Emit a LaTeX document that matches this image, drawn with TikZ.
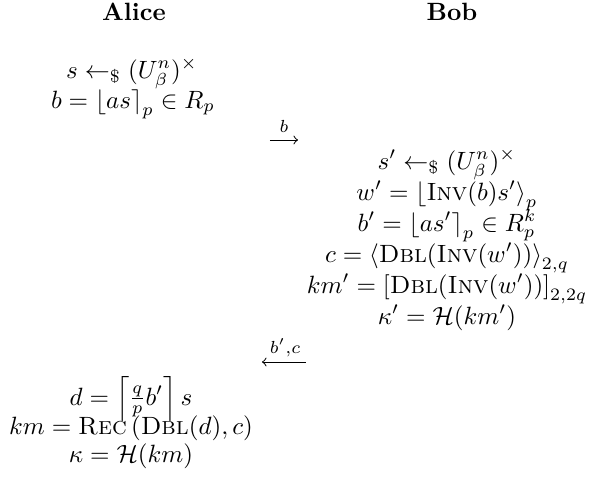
\documentclass[tikz,border=0pt]{standalone}
\usepackage{amsmath,amssymb}
\begin{document}
\begin{tikzpicture}[x=0.4pt,y=-0.4pt,
  lbl/.style={anchor=base,inner sep=0pt,outer sep=0pt},
  msg/.style={line width=0.4pt},
  msglbl/.style={anchor=base,inner sep=0pt}]
\useasboundingbox (0,0) rectangle (589,481);
\node[lbl,font=\bfseries] (alice) at (134,20) {Alice};
\node[lbl,font=\bfseries] (bob) at (452,20) {Bob};
% Alice first block
\node[lbl] (a1) at (132,78) {$s \leftarrow_{\$} (U^n_\beta)^\times$};
\node[lbl] (a2) at (133,108) {$b = \left\lfloor as \right\rceil_p \in R_p$};
% message 1
\coordinate (m1l) at (270,140);
\coordinate (m1r) at (298,140);
\draw[msg,->] (m1l) -- (m1r);
\node[msglbl] (m1t) at (284,132) {$\scriptstyle b$};
% Bob block
\node[lbl] (b1) at (447,169) {$s' \leftarrow_{\$} (U^n_\beta)^\times$};
\node[lbl] (b2) at (447,200) {$w' = \left\lfloor \textsc{Inv}(b)s' \right\rangle_p$};
\node[lbl] (b3) at (447,231) {$b' = \left\lfloor as' \right\rceil_p \in R_p^k$};
\node[lbl] (b4) at (447,262) {$c = \left\langle \textsc{Dbl}(\textsc{Inv}(w'))\right\rangle_{2,q}$};
\node[lbl] (b5) at (447,293) {$km' = \left[\textsc{Dbl}(\textsc{Inv}(w'))\right]_{2,2q}$};
\node[lbl] (b6) at (447,324) {$\kappa' = \mathcal{H}(km')$};
% message 2
\coordinate (m2l) at (262,362);
\coordinate (m2r) at (306,362);
\draw[msg,<-] (m2l) -- (m2r);
\node[msglbl] (m2t) at (285,353) {$\scriptstyle b',c$};
% Alice second block
\node[lbl] (a3) at (131,405) {$d = \left\lceil \tfrac{q}{p} b' \right\rceil s$};
\node[lbl] (a4) at (131,434) {$km = \textsc{Rec}\left(\textsc{Dbl}(d), c\right)$};
\node[lbl] (a5) at (131,462) {$\kappa = \mathcal{H}(km)$};
\end{tikzpicture}
\end{document}
